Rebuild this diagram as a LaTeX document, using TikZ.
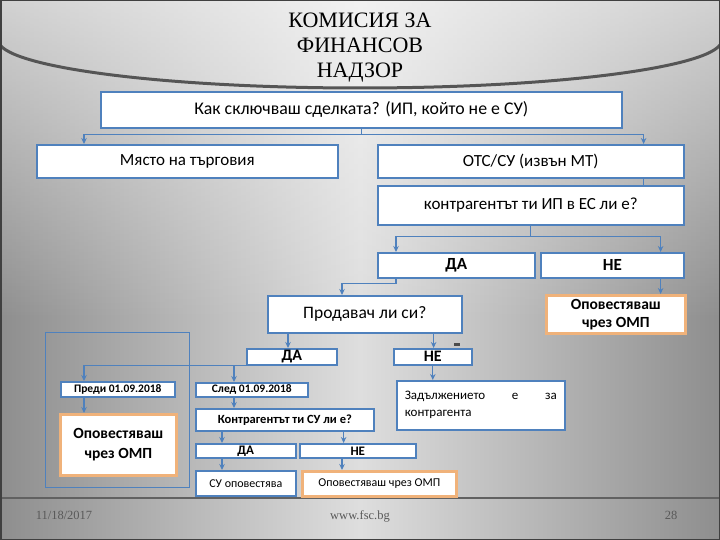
\documentclass[tikz,border=0pt]{standalone}
\usepackage{fontspec}
\setmainfont{Carlito}
\newfontfamily\titlefont{Liberation Serif}
\usetikzlibrary{arrows.meta, fadings}
\definecolor{boxblue}{RGB}{79,129,189}
\definecolor{ompline}{RGB}{240,178,122}
\definecolor{bgside}{RGB}{142,142,142}
\definecolor{bgmid}{RGB}{222,222,222}
\definecolor{arcgray}{RGB}{85,85,85}
\newcommand\fsz[2]{\fontsize{#1}{#2}\selectfont}
\tikzfading[name=fadetop, top color=transparent!0, bottom color=transparent!100]
\tikzset{
  flow/.style={
	x=1pt, y=-1pt, % picture measured in pixels, y going down
	>={Stealth[length=6pt,width=5.5pt]}, % small filled heads
	conn/.style={draw=boxblue, line width=1.2pt}, % plain connector
	arr/.style={conn, ->}, % connector with head
	box/.style={draw=boxblue, line width=1.6pt, fill=white, inner sep=0pt, anchor=north west},
	ompbox/.style={box, draw=ompline, line width=2.6pt}, % orange "notify" boxes
	foot/.style={font=\titlefont\fsz{12.5}{14}, text=black!65, anchor=base},
  }
}
\begin{document}
\begin{tikzpicture}[flow]
	  \useasboundingbox (0,0) rectangle (720,540);
	  % slide background
	  \shade[left color=bgside, right color=bgside, middle color=bgmid] (0,0) rectangle (720,540);
	  \fill[white, opacity=0.6, path fading=fadetop] (0,0) rectangle (720,320);
	  \begin{scope}
	    \clip (0,0) rectangle (720,540);
	    \draw[arcgray, line width=3pt] (-2,40) arc[start angle=180, end angle=0, x radius=362, y radius=48];
	  \end{scope}
	  \draw[line width=2.5pt, black!62] (0,498) -- (720,498);
	  \draw[line width=1.5pt, black!75] (0.75,0.75) rectangle (719.25,539.25);
	  \node[font=\titlefont\fsz{22}{25}, align=center] (title) at (360,48) {КОМИСИЯ ЗА\\ФИНАНСОВ\\НАДЗОР};
	  % boxes
	  \node[box, minimum width=521pt, minimum height=36pt, font=\fsz{17.8}{20}] (q) at (100,91) {Как сключваш сделката? (ИП, който не е СУ)};
	  \node[box, minimum width=301pt, minimum height=33pt, font=\fsz{17}{20}] (mt) at (36,144) {Място на търговия};
	  \node[box, minimum width=306pt, minimum height=33pt, font=\fsz{17}{20}] (otc) at (377,144) {ОТС/СУ (извън МТ)};
	  \node[box, minimum width=306pt, minimum height=39pt, font=\fsz{17}{20}] (ip) at (377,185) {контрагентът ти ИП в ЕС ли е?};
	  \node[box, minimum width=157pt, minimum height=25pt, font=\bfseries\fsz{17}{20}] (da1) at (377,252) {ДА};
	  \node[box, minimum width=143pt, minimum height=25pt, font=\bfseries\fsz{17}{20}] (ne1) at (540,252) {НЕ};
	  \node[ompbox, minimum width=139pt, minimum height=38pt, font=\bfseries\fsz{15.5}{18}, align=center] (omp1) at (545,294) {Оповестяваш\\чрез ОМП};
	  \node[box, minimum width=194pt, minimum height=37pt, font=\fsz{17.5}{20}] (seller) at (267,295) {Продавач ли си?};
	  \node[box, minimum width=90pt, minimum height=16pt, font=\bfseries\fsz{16}{18}] (da2) at (246,348) {\raisebox{-1.5pt}{ДА}};
	  \node[box, minimum width=78pt, minimum height=16pt, font=\bfseries\fsz{16}{18}] (ne2) at (393,348) {НЕ};
	  \fill[black!70] (454,343) rectangle (460,346);
	  \node[draw=boxblue, line width=0.9pt, anchor=north west, minimum width=144pt, minimum height=155pt, inner sep=0pt] (grp) at (45,332) {};
	  \node[box, minimum width=114pt, minimum height=15pt, font=\bfseries\fsz{11.5}{13}] (before) at (60,381) {Преди 01.09.2018};
	  \node[box, minimum width=112pt, minimum height=14pt, font=\bfseries\fsz{11.5}{13}] (after) at (195,382) {След 01.09.2018};
	  \node[ompbox, minimum width=116pt, minimum height=61pt, font=\bfseries\fsz{15.5}{20}, align=center] (omp2) at (59,413) {Оповестяваш\\чрез ОМП};
	  \node[box, minimum width=178pt, minimum height=22pt, font=\bfseries\fsz{12.5}{14}] (su) at (195,408) {Контрагентът ти СУ ли е?};
	  \node[box, minimum width=168pt, minimum height=49pt, font=\fsz{13}{17}, align=left] (oblig) at (396,380) {\hbox to 152pt{Задължението\hfill е\hfill за}\\контрагента};
	  \node[box, minimum width=100pt, minimum height=14pt, font=\bfseries\fsz{13}{14}] (da3) at (195,443) {\raisebox{-3pt}{ДА}};
	  \node[box, minimum width=116pt, minimum height=14pt, font=\bfseries\fsz{13}{14}] (ne3) at (299,443) {НЕ};
	  \node[box, minimum width=100pt, minimum height=25pt, font=\fsz{12}{14}] (suntf) at (195,470) {СУ оповестява};
	  \node[ompbox, minimum width=154pt, minimum height=25pt, font=\fsz{12}{14}] (omp3) at (301,470) {Оповестяваш чрез ОМП};
	  % connectors
	  \draw[conn] (q.south) -- ++(0,6) coordinate (j1);
	  \draw[arr] (j1) -| ([xshift=48pt]mt.north west);
	  \draw[arr] (j1) -| ([xshift=-41pt]otc.north east);
	  \draw[conn] ([xshift=-41pt]otc.south east) coordinate (t0) -- (t0 |- ip.north);
	  \draw[conn] (ip.south) -- ++(0,11) coordinate (j2);
	  \draw[arr] (j2) -| ([xshift=19pt]da1.north west);
	  \draw[arr] (j2) -| ([xshift=-24pt]ne1.north east);
	  \draw[arr] ([xshift=19pt]da1.south west) -- ++(0,5) -| ([xshift=75pt]seller.north west);
	  \draw[arr] ([xshift=-24pt]ne1.south east) coordinate (t1) -- (t1 |- omp1.north);
	  \draw[arr] ([xshift=21pt]seller.south west) coordinate (t2) -- (t2 |- da2.north);
	  \draw[arr] ([xshift=-29pt]seller.south east) coordinate (t3) -- (t3 |- ne2.north);
	  \draw[arr] (ne2.south) -- (ne2.south |- oblig.north);
	  \draw[arr] (da2.south west) -| ([xshift=24pt]before.north west);
	  \draw[arr] (da2.south west) -| ([xshift=39pt]after.north west);
	  \draw[arr] ([xshift=24pt]before.south west) coordinate (t4) -- (t4 |- omp2.north);
	  \draw[arr] ([xshift=39pt]after.south west) coordinate (t5) -- (t5 |- su.north);
	  \draw[arr] ([xshift=27pt]su.south west) coordinate (t6) -- (t6 |- da3.north);
	  \draw[arr] ([xshift=-31pt]su.south east) coordinate (t7) -- (t7 |- ne3.north);
	  \draw[arr] ([xshift=27pt]da3.south west) coordinate (t8) -- (t8 |- suntf.north);
	  \draw[arr] ([xshift=43pt]ne3.south west) coordinate (t9) -- (t9 |- omp3.north);
	  % footer
	  \node[foot] (date) at (64,519) {11/18/2017};
	  \node[foot] (web) at (360,519) {www.fsc.bg};
	  \node[foot] (page) at (671,519) {28};
\end{tikzpicture}
\end{document}
